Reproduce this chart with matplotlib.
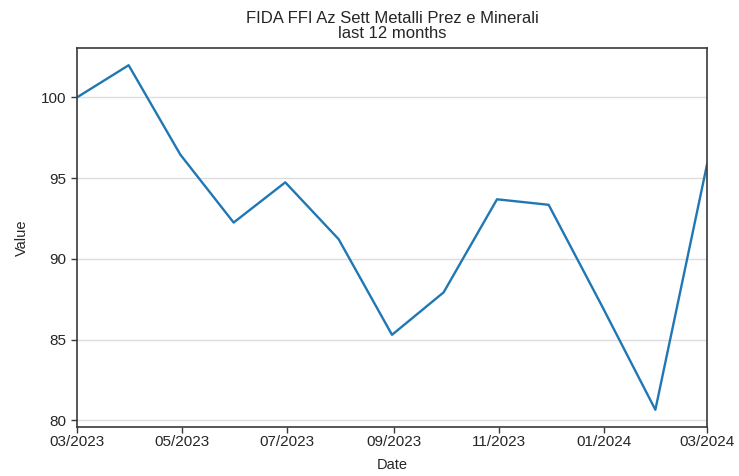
import matplotlib
matplotlib.use("Agg")
import matplotlib.pyplot as plt
import matplotlib.dates as mdates
import pandas as pd

dates = ["2023-03-01", "2023-03-31", "2023-04-30", "2023-05-31", "2023-06-30",
         "2023-07-31", "2023-08-31", "2023-09-30", "2023-10-31", "2023-11-30",
         "2023-12-31", "2024-01-31", "2024-03-01"]
values = [100.0, 101.99, 96.46, 92.25, 94.74, 91.22, 85.30, 87.93, 93.69, 93.35,
          87.08, 80.66, 95.84]

title = "FIDA FFI Az Sett Metalli Prez e Minerali\nlast 12 months"

plt.rcParams['font.family'] = ['Liberation Sans', 'DejaVu Sans']
txt = '#262626'

x = pd.to_datetime(dates)
fig = plt.figure(figsize=(7.39, 4.76), dpi=100)
ax = fig.add_axes([77/739, 1-427/476, (707-77)/739, (427-48)/476])
ax.plot(x, values, color='#1f77b4', linewidth=1.7)
ax.set_xlim(x[0], x[-1])
ax.margins(y=0.05)
ax.xaxis.set_major_locator(mdates.MonthLocator(bymonth=[1, 3, 5, 7, 9, 11]))
ax.xaxis.set_major_formatter(mdates.DateFormatter('%m/%Y'))
ax.set_yticks([80, 85, 90, 95, 100])
ax.yaxis.grid(True, color='#dddddd', linewidth=1)
ax.set_axisbelow(True)
for s in ax.spines.values():
    s.set_color('#3a3a3a')
    s.set_linewidth(1.2)
ax.tick_params(axis='both', labelsize=11, colors='#3a3a3a', labelcolor=txt,
               length=4, width=1)
ax.tick_params(axis='x', pad=2)
ax.set_xlabel('Date', fontsize=10.5, color=txt, labelpad=6)
ax.set_ylabel('Value', fontsize=10.5, color=txt, labelpad=9)
ax.set_title(title, fontsize=12, color=txt, linespacing=1.0, pad=7)
fig.savefig('out.png', dpi=100)
